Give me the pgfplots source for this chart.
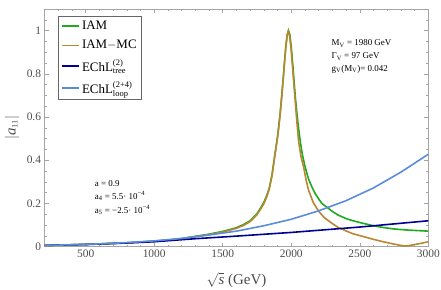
\documentclass[border=0pt]{standalone}
\usepackage{fontspec}
\setmainfont{Liberation Serif}
\usepackage{pgfplots}
\pgfplotsset{compat=1.18}
\definecolor{iamgreen}{RGB}{30,170,30}
\definecolor{mcbrown}{RGB}{185,135,50}
\definecolor{treeblue}{RGB}{0,0,150}
\definecolor{loopblue}{RGB}{90,140,220}
\definecolor{framegray}{RGB}{165,165,165}
\definecolor{labgray}{RGB}{75,75,75}
\newcommand{\sm}[1]{\hbox{\fontsize{8.5}{9}\selectfont #1}}
\newcommand{\an}[1]{\hbox{\fontsize{6.5}{7}\selectfont #1}}
\begin{document}
\begin{tikzpicture}
\begin{axis}[
 name=ax,
 scale only axis, width=383.7bp, height=237.7bp,
 xmin=200, xmax=3000, ymin=0, ymax=1.1,
 axis line style={framegray, line width=0.6pt},
 every tick/.style={framegray, line width=0.5pt},
 major tick length=4bp, minor tick length=2.2bp,
 xtick={500,1000,1500,2000,2500,3000},
 xticklabels={500,1000,1500,2000,2500,3000},
 minor xtick={300,400,600,700,800,900,1100,1200,1300,1400,1600,1700,1800,1900,2100,2200,2300,2400,2600,2700,2800,2900},
 ytick={0,0.2,0.4,0.6,0.8,1},
 yticklabels={0,0.2,0.4,0.6,0.8,1},
 minor ytick={0.05,0.1,0.15,0.25,0.3,0.35,0.45,0.5,0.55,0.65,0.7,0.75,0.85,0.9,0.95,1.05},
 tick label style={font=\fontsize{11.5}{13}\selectfont, text=labgray},
 xlabel={$\sqrt{\textit{s}}$ (GeV)},
 xlabel style={at={(axis description cs:0.5,-0.14)}, anchor=center, font=\fontsize{15}{18}\selectfont, text=labgray},
 ylabel={$\bigl|\textit{a}_{\sm{11}}\bigr|$},
 ylabel style={at={(axis description cs:-0.085,0.5)}, anchor=center, font=\fontsize{15}{18}\selectfont, text=labgray},
 legend style={at={(0.035,0.971)}, anchor=north west, draw=black!60, line width=0.8pt,
   font=\fontsize{13}{15}\selectfont, inner xsep=3pt, inner ysep=3pt, row sep=5pt},
 legend cell align=left,
 every axis plot/.append style={line width=1.6pt},
]
\addplot[iamgreen] coordinates {
(200,0.006)(400,0.009)(600,0.013)(800,0.018)(1000,0.026)(1100,0.031)(1200,0.038)
(1300,0.048)(1400,0.058)(1500,0.071)(1550,0.079)(1600,0.088)(1650,0.102)(1700,0.120)
(1750,0.153)(1775,0.178)(1800,0.205)(1820,0.235)(1840,0.272)(1860,0.335)(1880,0.425)
(1900,0.510)(1910,0.565)(1920,0.625)(1930,0.695)(1940,0.770)(1950,0.850)(1960,0.925)
(1970,0.980)(1980,1.000)(1990,0.980)(2000,0.925)(2010,0.850)(2020,0.770)(2030,0.690)
(2040,0.625)(2050,0.565)(2065,0.490)(2080,0.430)(2100,0.372)(2125,0.315)(2150,0.277)
(2180,0.240)(2223,0.200)(2266,0.180)(2300,0.163)(2343,0.146)(2400,0.130)(2450,0.120)
(2525,0.108)(2600,0.097)(2670,0.089)(2750,0.082)(2850,0.077)(3000,0.072)};
\addlegendentry{IAM}
\addplot[mcbrown] coordinates {
(200,0.006)(400,0.009)(600,0.013)(800,0.018)(1000,0.025)(1100,0.030)(1200,0.037)
(1300,0.046)(1400,0.056)(1500,0.068)(1550,0.076)(1600,0.085)(1650,0.098)(1700,0.116)
(1750,0.148)(1775,0.173)(1800,0.199)(1820,0.229)(1840,0.268)(1860,0.330)(1880,0.420)
(1900,0.505)(1910,0.560)(1920,0.620)(1930,0.690)(1940,0.765)(1950,0.845)(1960,0.920)
(1970,0.978)(1978,0.998)(1988,0.975)(2000,0.905)(2010,0.825)(2020,0.745)(2030,0.665)
(2040,0.585)(2053,0.490)(2070,0.420)(2090,0.369)(2108,0.310)(2126,0.262)(2160,0.205)
(2199,0.165)(2240,0.135)(2300,0.107)(2343,0.089)(2400,0.073)(2450,0.060)(2525,0.047)
(2600,0.034)(2670,0.023)(2750,0.012)(2800,0.006)(2830,0.003)(2860,0.005)(2900,0.010)
(2950,0.016)(3000,0.023)};
\addlegendentry{IAM$-$MC}
\addplot[treeblue] coordinates {
(200,0.006)(500,0.010)(800,0.017)(1000,0.023)(1300,0.037)(1600,0.049)(2000,0.066)
(2500,0.091)(3000,0.120)};
\addlegendentry{EChL$^{\sm{(2)}}_{\sm{tree}}$}
\addplot[loopblue] coordinates {
(200,0.006)(400,0.009)(600,0.013)(800,0.019)(1000,0.027)(1200,0.038)(1400,0.054)
(1600,0.072)(1800,0.097)(2000,0.127)(2200,0.166)(2400,0.213)(2600,0.272)(2800,0.345)
(3000,0.428)};
\addlegendentry{EChL$^{\sm{(2+4)}}_{\sm{loop}}$}
\node[anchor=west, font=\fontsize{9}{10}\selectfont, inner sep=0pt] at (axis cs:2293,0.940) {M$_{\an{V}}$ = 1980 GeV};
\node[anchor=west, font=\fontsize{9}{10}\selectfont, inner sep=0pt] at (axis cs:2293,0.880) {Γ$_{\an{V}}$ = 97 GeV};
\node[anchor=west, font=\fontsize{9}{10}\selectfont, inner sep=0pt] at (axis cs:2293,0.820) {g$_{\an{V}}$(M$_{\an{V}}$)= 0.042};
\node[anchor=west, font=\fontsize{9}{10}\selectfont, inner sep=0pt] at (axis cs:566,0.294) {a = 0.9};
\node[anchor=west, font=\fontsize{9}{10}\selectfont, inner sep=0pt] at (axis cs:566,0.234) {a$_{\an{4}}$ = 5.5· 10$^{\an{−4}}$};
\node[anchor=west, font=\fontsize{9}{10}\selectfont, inner sep=0pt] at (axis cs:566,0.169) {a$_{\an{5}}$ = −2.5· 10$^{\an{−4}}$};
\end{axis}
\pgfresetboundingbox
\path[use as bounding box] ([shift={(-44.6bp,-43.3bp)}]ax.south west) rectangle ([shift={(12.7bp,9bp)}]ax.north east);
\end{tikzpicture}
\end{document}
